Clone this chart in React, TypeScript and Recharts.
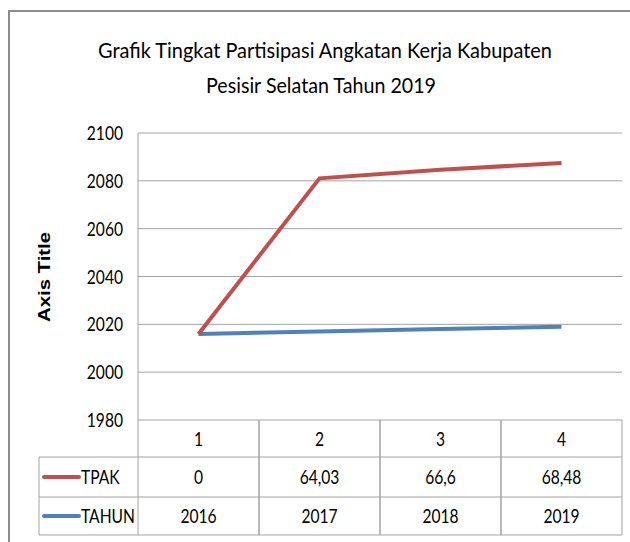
import { AreaChart, Area, XAxis, YAxis, CartesianGrid } from 'recharts';

// series as shown in the chart's data table (stacked line: TAHUN at the bottom, TPAK on top)
const categories = ['1', '2', '3', '4'];
const tpak = [0, 64.03, 66.6, 68.48];
const tahun = [2016, 2017, 2018, 2019];
const yTicks = [1980, 2000, 2020, 2040, 2060, 2080, 2100];

const data = categories.map((name, i) => ({ name, tpak: tpak[i], tahun: tahun[i] }));

const FONT = "Lato, 'Open Sans', sans-serif";
const SQUEEZE = 0.78; // the original uses a narrow Calibri look
const RED = '#C0504D';
const BLUE = '#4F81BD';
const GRID = '#a3a3a3';

// data table geometry (below the plot)
const TABLE_TOP = 420;
const ROW1 = 457;
const ROW2 = 497;
const TABLE_BOTTOM = 535;
const HALF_COL = 60.5;
const LABEL_LEFT = 39;

const fmt = (v: number) => String(v).replace('.', ',');

function NarrowText({ x, y, anchor = 'middle', size = 20, children }: any) {
  return (
    <text
      transform={`translate(${x},${y}) scale(${SQUEEZE},1)`}
      textAnchor={anchor}
      fontFamily={FONT}
      fontSize={size}
      fill="#000"
    >
      {children}
    </text>
  );
}

function YTick(props: any) {
  const { x, y, payload } = props;
  return <NarrowText x={x} y={y + 7} anchor="end">{payload.value}</NarrowText>;
}

function TableColumn(props: any) {
  const { x, payload, index } = props;
  const i = payload?.index ?? index;
  const left = x - HALF_COL;
  const right = x + HALF_COL;
  const mid1 = (TABLE_TOP + ROW1) / 2 + 7;
  const mid2 = (ROW1 + ROW2) / 2 + 7;
  const mid3 = (ROW2 + TABLE_BOTTOM) / 2 + 7;
  return (
    <g>
      <line x1={left} x2={left} y1={TABLE_TOP} y2={TABLE_BOTTOM} stroke={GRID} />
      <line x1={right} x2={right} y1={TABLE_TOP} y2={TABLE_BOTTOM} stroke={GRID} />
      <line x1={left} x2={right} y1={ROW1} y2={ROW1} stroke={GRID} />
      <line x1={left} x2={right} y1={ROW2} y2={ROW2} stroke={GRID} />
      <line x1={left} x2={right} y1={TABLE_BOTTOM} y2={TABLE_BOTTOM} stroke={GRID} />
      <NarrowText x={x} y={mid1}>{categories[i]}</NarrowText>
      <NarrowText x={x} y={mid2}>{fmt(tpak[i])}</NarrowText>
      <NarrowText x={x} y={mid3}>{fmt(tahun[i])}</NarrowText>
      {i === 0 && (
        <g>
          <line x1={LABEL_LEFT} x2={left} y1={ROW1} y2={ROW1} stroke={GRID} />
          <line x1={LABEL_LEFT} x2={left} y1={ROW2} y2={ROW2} stroke={GRID} />
          <line x1={LABEL_LEFT} x2={left} y1={TABLE_BOTTOM} y2={TABLE_BOTTOM} stroke={GRID} />
          <line x1={LABEL_LEFT} x2={LABEL_LEFT} y1={ROW1} y2={TABLE_BOTTOM} stroke={GRID} />
          <line x1={44} x2={79} y1={(ROW1 + ROW2) / 2} y2={(ROW1 + ROW2) / 2} stroke={RED} strokeWidth={4} strokeLinecap="round" />
          <line x1={44} x2={79} y1={(ROW2 + TABLE_BOTTOM) / 2} y2={(ROW2 + TABLE_BOTTOM) / 2} stroke={BLUE} strokeWidth={4} strokeLinecap="round" />
          <NarrowText x={81} y={mid2} anchor="start">TPAK</NarrowText>
          <NarrowText x={81} y={mid3} anchor="start">TAHUN</NarrowText>
        </g>
      )}
    </g>
  );
}

export default function App() {
  return (
    <div style={{ position: 'absolute', left: 0, top: 0, width: 630, height: 542, overflow: 'hidden', background: '#fff' }}>
      <div style={{ position: 'absolute', left: 8, top: 10, width: 700, height: 700, border: '2px solid #8c8c8c' }} />
      <AreaChart width={630} height={542} data={data} margin={{ top: 133, right: 8, left: 78, bottom: 0 }}>
        <CartesianGrid vertical={false} stroke={GRID} />
        <XAxis
          dataKey="name"
          padding={{ left: HALF_COL, right: HALF_COL }}
          height={122}
          axisLine={false}
          tickLine={false}
          interval={0}
          tick={<TableColumn />}
        />
        <YAxis
          domain={[1980, 2100]}
          allowDataOverflow
          ticks={yTicks}
          width={60}
          axisLine={{ stroke: GRID }}
          tickLine={false}
          tickSize={0}
          tickMargin={15}
          tick={<YTick />}
        />
        <Area type="linear" stackId="a" dataKey="tahun" stroke={BLUE} strokeWidth={4} fill="none" dot={false} activeDot={false} isAnimationActive={false} />
        <Area type="linear" stackId="a" dataKey="tpak" stroke={RED} strokeWidth={4} fill="none" dot={false} activeDot={false} isAnimationActive={false} />
      </AreaChart>
      <svg width={630} height={542} style={{ position: 'absolute', left: 0, top: 0, pointerEvents: 'none' }}>
        <text x={325} y={58} textAnchor="middle" fontFamily={FONT} fontSize={22} textLength={454} lengthAdjust="spacingAndGlyphs" fill="#000">
          Grafik Tingkat Partisipasi Angkatan Kerja Kabupaten
        </text>
        <text x={321} y={93} textAnchor="middle" fontFamily={FONT} fontSize={22} textLength={230} lengthAdjust="spacingAndGlyphs" fill="#000">
          Pesisir Selatan Tahun 2019
        </text>
        <text
          x={50}
          y={277}
          transform="rotate(-90, 50, 277)"
          textAnchor="middle"
          fontFamily="'Liberation Sans', Arial, sans-serif"
          fontWeight="bold"
          fontSize={16}
          textLength={90}
          lengthAdjust="spacingAndGlyphs"
          fill="#000"
        >
          Axis Title
        </text>
      </svg>
    </div>
  );
}
